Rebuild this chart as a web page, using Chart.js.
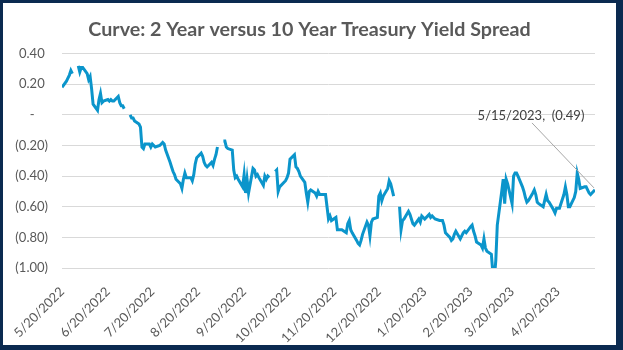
<!DOCTYPE html>
<html>
<head>
<meta charset="utf-8">
<script src="https://cdn.jsdelivr.net/npm/chart.js@4.4.0/dist/chart.umd.min.js"></script>
<style>
    html, body { margin: 0; padding: 0; }
    body { width: 623px; height: 350px; background: #0b2a50; position: relative; overflow: hidden; }
    #frame { position: absolute; left: 3px; top: 3px; width: 613px; height: 342px; background: #fff; }
</style>
</head>
<body>
<div id="frame"><canvas id="spread-chart"></canvas></div>
<script>
// 10Y - 2Y spread, one value per weekday starting 5/20/2022 (null = market holiday gap)
const startDate = '5/20/2022';
const endDate = '5/15/2023';
const spreadValues = [
    0.18,
    0.22, 0.24, 0.26, 0.29, 0.27,        // 5/23
    null, 0.32, 0.28, 0.31, 0.31,        // 5/30
    0.27, 0.23, 0.25, 0.17, 0.07,        // 6/6
    0.03, 0.10, 0.14, 0.08, 0.09,        // 6/13
    0.10, 0.09, 0.10, 0.09, 0.09,        // 6/20
    0.12, 0.08, 0.06, 0.06, 0.04,        // 6/27
    null, 0.00, -0.02, -0.02, -0.04,     // 7/4
    -0.06, -0.08, -0.21, -0.22, -0.19,   // 7/11
    -0.19, -0.21, -0.19, -0.20, -0.21,   // 7/18
    -0.20, -0.19, -0.18, -0.19, -0.23,   // 7/25
    -0.31, -0.34, -0.37, -0.39, -0.42,   // 8/1
    -0.45, -0.48, -0.42, -0.38, -0.41,   // 8/8
    -0.41, -0.43, -0.39, -0.32, -0.28,   // 8/15
    -0.25, -0.27, -0.31, -0.33, -0.34,   // 8/22
    -0.31, -0.33, -0.29, -0.26, -0.21,   // 8/29
    null, -0.17, -0.17, -0.21, -0.22,    // 9/5
    -0.23, -0.36, -0.41, -0.40, -0.42,   // 9/12
    -0.47, -0.39, -0.51, -0.42, -0.51,   // 9/19
    -0.35, -0.36, -0.40, -0.39, -0.41,   // 9/26
    -0.46, -0.40, -0.42, -0.40, -0.41,   // 10/3
    null, -0.37, -0.36, -0.50, -0.47,    // 10/10
    -0.44, -0.43, -0.41, -0.38, -0.29,   // 10/17
    -0.26, -0.34, -0.35, -0.37, -0.40,   // 10/24
    -0.44, -0.51, -0.57, -0.50, -0.49,   // 10/31
    -0.51, -0.53, -0.50, -0.52, -0.52,   // 11/7
    -0.52, -0.60, -0.68, -0.66, -0.69,   // 11/14
    -0.67, -0.75, -0.75, -0.75, -0.75,   // 11/21
    -0.77, -0.71, -0.69, -0.75, -0.77,   // 11/28
    -0.82, -0.84, -0.85, -0.82, -0.78,   // 12/5
    -0.70, -0.72, -0.79, -0.70, -0.68,   // 12/12
    -0.67, -0.53, -0.51, -0.56, -0.53,   // 12/19
    -0.48, -0.43, -0.45, -0.49, -0.53,   // 12/26
    null, -0.60, -0.75, -0.69, -0.68,    // 1/2
    -0.63, -0.65, -0.68, -0.71, -0.72,   // 1/9
    -0.68, -0.70, -0.66, -0.67, -0.68,   // 1/16
    -0.65, -0.67, -0.66, -0.67, -0.68,   // 1/23
    -0.69, -0.69, -0.69, -0.72, -0.77,   // 1/30
    -0.80, -0.82, -0.81, -0.78, -0.76,   // 2/6
    -0.81, -0.79, -0.77, -0.76, -0.77,   // 2/13
    -0.73, -0.72, -0.76, -0.79, -0.83,   // 2/20
    -0.85, -0.87, -0.81, -0.87, -0.89,   // 2/27
    -0.91, -1.03, -1.07, -0.95, -0.72,   // 3/6
    -0.50, -0.42, -0.58, -0.42, -0.45,   // 3/13
    -0.58, -0.40, -0.38, -0.38, -0.40,   // 3/20
    -0.47, -0.50, -0.54, -0.57, -0.56,   // 3/27
    -0.51, -0.49, -0.52, -0.57, -0.58,   // 4/3
    -0.60, -0.56, -0.52, -0.56, -0.57,   // 4/10
    -0.62, -0.64, -0.61, -0.61, -0.61,   // 4/17
    -0.52, -0.47, -0.52, -0.60, -0.60,   // 4/24
    -0.54, -0.50, -0.38, -0.42, -0.48,   // 5/1
    -0.47, -0.47, -0.49, -0.51, -0.52,   // 5/8
    -0.49,                               // 5/15
];
const xTickLabels = [
    '5/20/2022', '6/20/2022', '7/20/2022', '8/20/2022', '9/20/2022', '10/20/2022',
    '11/20/2022', '12/20/2022', '1/20/2023', '2/20/2023', '3/20/2023', '4/20/2023',
];
const yTicks = { min: -1.0, max: 0.4, step: 0.2 };

const toUtc = (s) => {
    const [m, d, y] = s.split('/').map(Number);
    return Date.UTC(y, m - 1, d);
};
const DAY = 86400000;
const dayOffset = (s) => Math.round((toUtc(s) - toUtc(startDate)) / DAY);

// place each value on its weekday
const points = [];
let t = toUtc(startDate);
for (const v of spreadValues) {
    while ([0, 6].includes(new Date(t).getUTCDay())) t += DAY;
    points.push({ x: Math.round((t - toUtc(startDate)) / DAY), y: v });
    t += DAY;
}

const formatAccounting = (v) => {
    const r = Math.round(v * 100) / 100;
    if (r === 0) return '-    ';
    const s = Math.abs(r).toFixed(2);
    return r < 0 ? '(' + s + ')' : s + ' ';
};

const lastLabel = {
    id: 'lastLabel',
    afterDatasetsDraw(chart) {
        const meta = chart.getDatasetMeta(0);
        const pt = meta.data[meta.data.length - 1];
        const last = spreadValues[spreadValues.length - 1];
        const { ctx } = chart;
        ctx.save();
        ctx.strokeStyle = '#a6a6a6';
        ctx.lineWidth = 1;
        ctx.beginPath();
        ctx.moveTo(pt.x - 63, pt.y - 67);
        ctx.lineTo(pt.x - 1, pt.y - 2);
        ctx.stroke();
        ctx.fillStyle = '#404040';
        ctx.font = "13px Lato, 'Open Sans', sans-serif";
        ctx.textAlign = 'center';
        ctx.textBaseline = 'middle';
        ctx.fillText(endDate + ',  ' + formatAccounting(last).trim(), pt.x - 64, pt.y - 74);
        ctx.restore();
    },
};

Chart.defaults.font.family = "Lato, 'Open Sans', sans-serif";
Chart.defaults.animation = false;

new Chart(document.getElementById('spread-chart'), {
    type: 'line',
    data: {
        datasets: [{
            data: points,
            borderColor: '#0b95cb',
            borderWidth: 3,
            pointRadius: 0,
            tension: 0,
            spanGaps: false,
        }],
    },
    options: {
        responsive: true,
        maintainAspectRatio: false,
        layout: { padding: 0 },
        plugins: {
            legend: { display: false },
            tooltip: { enabled: false },
            title: {
                display: true,
                text: 'Curve: 2 Year versus 10 Year Treasury Yield Spread',
                color: '#595959',
                font: { size: 19.7, weight: 'bold' },
                padding: { top: 15, bottom: 12 },
            },
        },
        scales: {
            x: {
                type: 'linear',
                min: 0,
                max: dayOffset(endDate),
                grid: { display: false },
                border: { display: false },
                afterBuildTicks: (scale) => {
                    scale.ticks = xTickLabels.map(l => ({ value: dayOffset(l) }));
                },
                afterFit: (scale) => { scale.height = 77; },
                ticks: {
                    autoSkip: false,
                    minRotation: 45,
                    maxRotation: 45,
                    padding: 8,
                    color: '#595959',
                    font: { size: 13 },
                    callback: (v) => xTickLabels.find(l => dayOffset(l) === v) || '',
                },
            },
            y: {
                min: yTicks.min,
                max: yTicks.max,
                grid: { color: '#d9d9d9', drawTicks: false },
                border: { display: false },
                afterFit: (scale) => { scale.width = 59; },
                ticks: {
                    stepSize: yTicks.step,
                    padding: 14,
                    color: '#595959',
                    font: { size: 13 },
                    callback: formatAccounting,
                },
            },
            // empty right-hand axis, only reserves the right margin
            yPad: {
                position: 'right',
                grid: { display: false },
                border: { display: false },
                ticks: { display: false },
                afterFit: (scale) => { scale.width = 21; },
            },
        },
    },
    plugins: [lastLabel],
});
</script>
</body>
</html>
